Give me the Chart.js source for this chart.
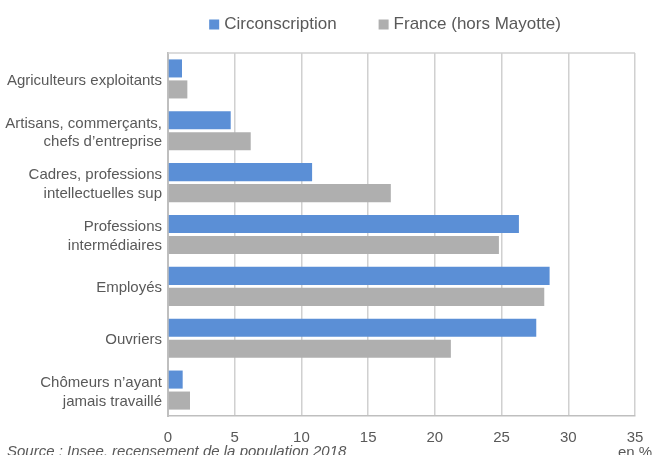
<!DOCTYPE html>
<html lang="fr">
<head>
<meta charset="utf-8">
<script src="https://cdn.jsdelivr.net/npm/chart.js@4"></script>
<style>
  html, body { margin: 0; padding: 0; background: #fff; }
  canvas { display: block; }
</style>
</head>
<body>
<canvas id="chart" width="657" height="455"></canvas>
<script>
// Data (en %)
const categories = [
  'Agriculteurs exploitants',
  ['Artisans, commerçants,', 'chefs d’entreprise'],
  ['Cadres, professions', 'intellectuelles sup'],
  ['Professions', 'intermédiaires'],
  'Employés',
  'Ouvriers',
  ['Chômeurs n’ayant', 'jamais travaillé']
];
const circonscription = [1.05, 4.7, 10.8, 26.3, 28.6, 27.6, 1.1];
const franceHorsMayotte = [1.45, 6.2, 16.7, 24.8, 28.2, 21.2, 1.65];
const xTicks = [0, 5, 10, 15, 20, 25, 30, 35];
const sourceText = 'Source : Insee, recensement de la population 2018';

const FONT = '"Liberation Sans", Arial, sans-serif';
const TEXT = '#595959';

// Top frame line, custom legend and source note
const extrasPlugin = {
  id: 'extras',
  beforeDatasetsDraw(chart) {
    const { ctx, chartArea: a } = chart;
    ctx.save();
    ctx.strokeStyle = '#d0d0d0';
    ctx.lineWidth = 1.5;
    ctx.beginPath();
    ctx.moveTo(a.left, a.top);
    ctx.lineTo(a.right, a.top);
    ctx.stroke();
    ctx.restore();
  },
  afterDraw(chart) {
    const ctx = chart.ctx;
    ctx.save();
    ctx.font = `17px ${FONT}`;
    const box = 10, gap = 5, spacing = 42;
    const items = chart.data.datasets.map(ds => ({
      label: ds.label, color: ds.backgroundColor, w: ctx.measureText(ds.label).width
    }));
    const total = items.reduce((s, it) => s + box + gap + it.w, 0) + spacing * (items.length - 1);
    let x = 385 - total / 2;
    ctx.textBaseline = 'middle';
    items.forEach(it => {
      ctx.fillStyle = it.color;
      ctx.fillRect(x, 19.5, box, box);
      ctx.fillStyle = TEXT;
      ctx.fillText(it.label, x + box + gap, 24);
      x += box + gap + it.w + spacing;
    });

    ctx.font = `italic 15px ${FONT}`;
    ctx.textBaseline = 'alphabetic';
    ctx.fillStyle = TEXT;
    ctx.fillText(sourceText, 7, 456);
    ctx.restore();
  }
};

new Chart(document.getElementById('chart'), {
  type: 'bar',
  data: {
    labels: categories,
    datasets: [
      { label: 'Circonscription', data: circonscription, backgroundColor: '#5b8fd6',
        categoryPercentage: 0.81, barPercentage: 0.86 },
      { label: 'France (hors Mayotte)', data: franceHorsMayotte, backgroundColor: '#afafaf',
        categoryPercentage: 0.81, barPercentage: 0.86 }
    ]
  },
  options: {
    indexAxis: 'y',
    responsive: false,
    animation: false,
    layout: { padding: { top: 53, right: 22, left: 0, bottom: 0 } },
    plugins: { legend: { display: false }, tooltip: { enabled: false } },
    scales: {
      x: {
        min: 0,
        max: 35,
        afterBuildTicks: (s) => { s.ticks = xTicks.map(v => ({ value: v })); },
        afterFit: (s) => { s.height = 39; s.paddingLeft = 0; s.paddingRight = 0; },
        ticks: {
          color: TEXT,
          font: { family: FONT, size: 15, lineHeight: 1 },
          padding: 14,
          maxRotation: 0,
          callback: (v) => v === 35 ? ['35', 'en %'] : String(v)
        },
        grid: { color: '#d0d0d0', lineWidth: 1.5, drawTicks: false },
        border: { display: true, color: '#bfbfbf', width: 1.5 }
      },
      y: {
        afterFit: (s) => { s.width = 168; },
        ticks: { color: TEXT, font: { family: FONT, size: 15, lineHeight: 1.25 }, padding: 6, labelOffset: 2 },
        grid: { display: false, drawTicks: false },
        border: { display: true, color: '#bfbfbf', width: 2 }
      }
    }
  },
  plugins: [extrasPlugin]
});
</script>
</body>
</html>
